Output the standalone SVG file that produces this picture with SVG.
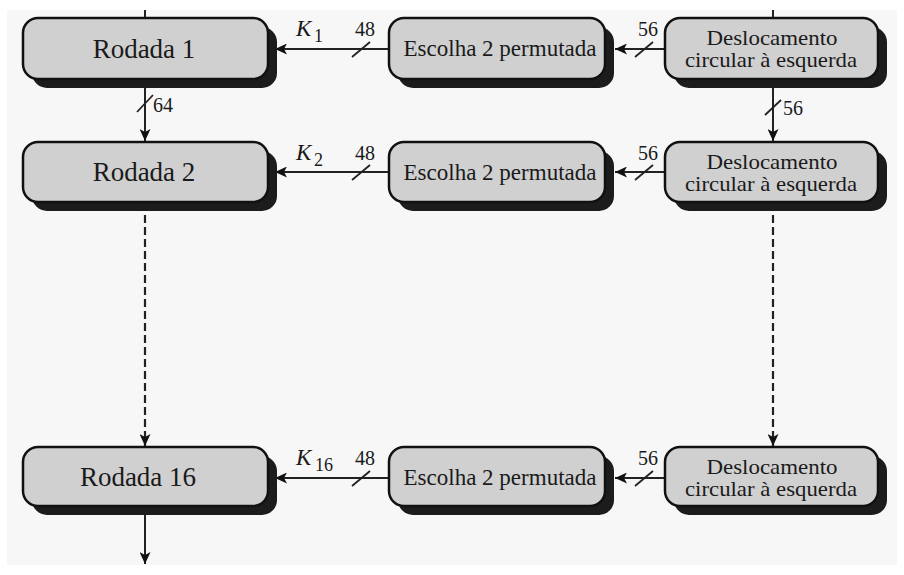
<svg xmlns="http://www.w3.org/2000/svg" width="904" height="575" viewBox="0 0 904 575">
<defs>
<style>
.box{fill:#d0d0d0;stroke:#111;stroke-width:2.5}
.sh{fill:#1c1c1c}
.ln{stroke:#222;stroke-width:2;fill:none}
.dash{stroke:#222;stroke-width:2.2;fill:none;stroke-dasharray:8 4}
.sl{stroke:#222;stroke-width:1.8}
text{font-family:"Liberation Serif","Times New Roman","DejaVu Serif",serif;fill:#1a1a1a}
.t{text-anchor:middle}
.big{font-size:27px}
.mid{font-size:23px}
.two{font-size:21px}
.lab{font-size:20px}
.k{font-size:23px;font-style:italic}
.sub{font-size:18px}
</style>
<marker id="ah" markerUnits="userSpaceOnUse" markerWidth="13" markerHeight="11" refX="12" refY="5.5" orient="auto">
<path d="M0,0 L12,5.5 L0,11 L3,5.5 z" fill="#111"/>
</marker>
</defs>
<rect x="0" y="0" width="904" height="575" fill="#ffffff"/>
<rect x="7" y="10" width="890" height="555" fill="#f7f7f7"/>

<g id="connectors">
<line class="ln" x1="145" y1="10" x2="145" y2="18"/>
<line class="ln" x1="773" y1="10" x2="773" y2="18"/>
<line class="ln" x1="389" y1="49" x2="275" y2="49" marker-end="url(#ah)"/>
<line class="ln" x1="665" y1="49" x2="615" y2="49" marker-end="url(#ah)"/>
<line class="ln" x1="389" y1="172" x2="275" y2="172" marker-end="url(#ah)"/>
<line class="ln" x1="665" y1="172" x2="615" y2="172" marker-end="url(#ah)"/>
<line class="ln" x1="389" y1="478" x2="275" y2="478" marker-end="url(#ah)"/>
<line class="ln" x1="665" y1="478" x2="615" y2="478" marker-end="url(#ah)"/>
<line class="ln" x1="145" y1="80" x2="145" y2="141" marker-end="url(#ah)"/>
<line class="ln" x1="773" y1="80" x2="773" y2="141" marker-end="url(#ah)"/>
<line class="dash" x1="145" y1="203" x2="145" y2="446" marker-end="url(#ah)"/>
<line class="dash" x1="773" y1="203" x2="773" y2="446" marker-end="url(#ah)"/>
<line class="ln" x1="145" y1="507" x2="145" y2="564" marker-end="url(#ah)"/>
<line class="sl" x1="352" y1="57" x2="370" y2="42"/>
<line class="sl" x1="635" y1="57" x2="653" y2="42"/>
<line class="sl" x1="352" y1="180" x2="370" y2="165"/>
<line class="sl" x1="635" y1="180" x2="653" y2="165"/>
<line class="sl" x1="352" y1="486" x2="370" y2="471"/>
<line class="sl" x1="635" y1="486" x2="653" y2="471"/>
<line class="sl" x1="137" y1="112" x2="153" y2="95"/>
<line class="sl" x1="765" y1="115" x2="781" y2="100"/>
<text class="lab t" x="365" y="36">48</text>
<text class="lab t" x="648" y="36">56</text>
<text class="lab t" x="365" y="160">48</text>
<text class="lab t" x="648" y="160">56</text>
<text class="lab t" x="365" y="465">48</text>
<text class="lab t" x="648" y="465">56</text>
<text class="lab" x="153" y="112">64</text>
<text class="lab" x="783" y="115">56</text>
<text class="k" x="296" y="36">K</text><text class="sub" x="314" y="42">1</text>
<text class="k" x="296" y="160">K</text><text class="sub" x="314" y="166">2</text>
<text class="k" x="296" y="465">K</text><text class="sub" x="315" y="471">16</text>
</g>

<g id="rodada1">
<rect class="sh" x="32" y="27" width="245" height="61" rx="15"/>
<rect class="box" x="23" y="18" width="245" height="61" rx="15"/>
<text class="t big" x="144" y="58">Rodada 1</text>
</g>
<g id="escolha1">
<rect class="sh" x="398" y="27" width="216" height="61" rx="15"/>
<rect class="box" x="389" y="18" width="216" height="61" rx="15"/>
<text class="t mid" x="500" y="56">Escolha 2 permutada</text>
</g>
<g id="desloc1">
<rect class="sh" x="674" y="27" width="213" height="61" rx="15"/>
<rect class="box" x="665" y="18" width="213" height="61" rx="15"/>
<text class="t two" x="772" y="45" textLength="131" lengthAdjust="spacingAndGlyphs">Deslocamento</text>
<text class="t two" x="771" y="67" textLength="172" lengthAdjust="spacingAndGlyphs">circular à esquerda</text>
</g>

<g id="rodada2">
<rect class="sh" x="32" y="151" width="245" height="60" rx="15"/>
<rect class="box" x="23" y="142" width="245" height="60" rx="15"/>
<text class="t big" x="144" y="181">Rodada 2</text>
</g>
<g id="escolha2">
<rect class="sh" x="398" y="151" width="216" height="60" rx="15"/>
<rect class="box" x="389" y="142" width="216" height="60" rx="15"/>
<text class="t mid" x="500" y="180">Escolha 2 permutada</text>
</g>
<g id="desloc2">
<rect class="sh" x="674" y="151" width="213" height="60" rx="15"/>
<rect class="box" x="665" y="142" width="213" height="60" rx="15"/>
<text class="t two" x="772" y="169" textLength="131" lengthAdjust="spacingAndGlyphs">Deslocamento</text>
<text class="t two" x="771" y="191" textLength="172" lengthAdjust="spacingAndGlyphs">circular à esquerda</text>
</g>

<g id="rodada16">
<rect class="sh" x="32" y="456" width="245" height="59" rx="15"/>
<rect class="box" x="23" y="447" width="245" height="59" rx="15"/>
<text class="t big" x="138" y="486">Rodada 16</text>
</g>
<g id="escolha16">
<rect class="sh" x="398" y="456" width="216" height="59" rx="15"/>
<rect class="box" x="389" y="447" width="216" height="59" rx="15"/>
<text class="t mid" x="500" y="485">Escolha 2 permutada</text>
</g>
<g id="desloc16">
<rect class="sh" x="674" y="456" width="213" height="59" rx="15"/>
<rect class="box" x="665" y="447" width="213" height="59" rx="15"/>
<text class="t two" x="772" y="474" textLength="131" lengthAdjust="spacingAndGlyphs">Deslocamento</text>
<text class="t two" x="771" y="496" textLength="172" lengthAdjust="spacingAndGlyphs">circular à esquerda</text>
</g>
</svg>
